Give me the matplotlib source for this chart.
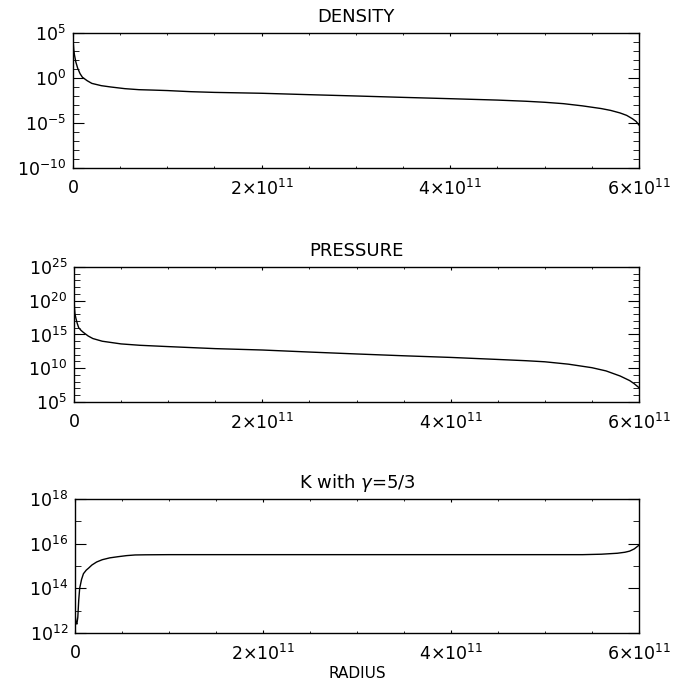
import math
import matplotlib
matplotlib.use("Agg")
import matplotlib.pyplot as plt
from matplotlib.ticker import FixedLocator, FuncFormatter

plt.rcParams['font.family'] = ['DejaVu Sans']
plt.rcParams['mathtext.fontset'] = 'dejavusans'

# radius in units of 1e11 (cm)
dens_r = [0.0, 0.003, 0.008, 0.015, 0.03, 0.05, 0.075, 0.1, 0.15, 0.2, 0.3, 0.4, 0.55, 0.7, 0.85,
          1.0, 1.25, 1.5, 2.0, 2.5, 3.0, 3.5, 4.0, 4.5, 4.8, 5.0, 5.2, 5.4, 5.6, 5.7, 5.8, 5.87,
          5.93, 5.97, 6.0]
dens_v = [3e4, 8e3, 1.5e3, 4e2, 60, 12, 3, 1.2, 0.5, 0.25, 0.14, 0.1, 0.065, 0.05, 0.045,
          0.04, 0.03, 0.025, 0.02, 0.014, 0.01, 7e-3, 5e-3, 3.5e-3, 2.6e-3, 2e-3, 1.4e-3, 8e-4,
          4e-4, 2.5e-4, 1.3e-4, 7e-5, 3e-5, 1.5e-5, 6e-6]

pres_r = [0.0, 0.005, 0.01, 0.02, 0.035, 0.05, 0.075, 0.1, 0.15, 0.2, 0.3, 0.5, 0.7, 1.0, 1.5,
          2.0, 2.5, 3.0, 3.5, 4.0, 4.5, 4.8, 5.0, 5.25, 5.5, 5.65, 5.8, 5.9, 5.95, 6.0]
pres_v = [2.5e20, 8e18, 1.2e18, 2.5e17, 4e16, 1e16, 4e15, 2e15, 6e14, 2.5e14, 1e14, 4e13,
          2.5e13, 1.6e13, 8e12, 5e12, 2.5e12, 1.3e12, 7e11, 4e11, 2e11, 1.3e11, 9e10, 4e10,
          1.2e10, 4e9, 7e8, 1.5e8, 5e7, 1.3e7]

k_r = [0.0, 0.01, 0.02, 0.03, 0.04, 0.05, 0.07, 0.09, 0.12, 0.145, 0.18, 0.23, 0.29, 0.37, 0.46,
       0.55, 0.64, 0.75, 1.0, 2.0, 3.0, 4.0, 5.0, 5.4, 5.6, 5.77, 5.85, 5.9, 5.95, 6.0]
k_v = [8e12, 3e12, 2.5e12, 5e12, 3e13, 1e14, 2.5e14, 4.5e14, 6.5e14, 8e14, 1.1e15, 1.5e15,
       1.9e15, 2.3e15, 2.6e15, 2.9e15, 3.1e15, 3.15e15, 3.2e15, 3.2e15, 3.2e15, 3.2e15,
       3.2e15, 3.2e15, 3.35e15, 3.7e15, 4.1e15, 4.6e15, 5.8e15, 8.5e15]

x_ticks = [0, 2e11, 4e11, 6e11]
x_labels = ['0', r'$2{\times}10^{11}$', r'$4{\times}10^{11}$', r'$6{\times}10^{11}$']

panels = [
    ("DENSITY", dens_r, dens_v, (1e-10, 1e5), [-10, -5, 0, 5], list(range(-10, 6))),
    ("PRESSURE", pres_r, pres_v, (1e5, 1e25), [5, 10, 15, 20, 25], list(range(5, 26))),
    (r"K with $\gamma$=5/3", k_r, k_v, (1e12, 1e18), [12, 14, 16, 18], list(range(12, 19))),
]

fig = plt.figure(figsize=(6.86, 6.84), dpi=100)
boxes = [[0.1064, 0.7544, 0.825, 0.1974],
         [0.1079, 0.4123, 0.8236, 0.1974],
         [0.1093, 0.0746, 0.8222, 0.1960]]

for box, (title, r, v, ylim, ymaj, ymin) in zip(boxes, panels):
    ax = fig.add_axes(box)
    ax.semilogy([ri * 1e11 for ri in r], v, color='black', lw=1.0)
    ax.set_xlim(0, 6e11)
    ax.set_ylim(*ylim)
    ax.set_title(title, fontsize=13, pad=8)

    ax.xaxis.set_major_locator(FixedLocator(x_ticks))
    ax.set_xticklabels(x_labels)
    ax.xaxis.set_minor_locator(FixedLocator([i * 0.5e11 for i in range(13)]))

    ax.yaxis.set_major_locator(FixedLocator([10.0 ** e for e in ymaj]))
    ax.yaxis.set_major_formatter(FuncFormatter(lambda val, pos: r'$10^{%d}$' % round(math.log10(val))))
    ax.yaxis.set_minor_locator(FixedLocator([10.0 ** e for e in ymin]))
    ax.yaxis.set_minor_formatter(FuncFormatter(lambda val, pos: ''))

    ax.tick_params(axis='both', which='both', direction='in', top=True, right=True,
                   colors='black', labelsize=12.5)
    ax.tick_params(axis='x', which='major', length=2.2, pad=8)
    ax.tick_params(axis='x', which='minor', length=1.2)
    ax.tick_params(axis='y', which='major', length=8, pad=5)
    ax.tick_params(axis='y', which='minor', length=4)
    for s in ax.spines.values():
        s.set_linewidth(1.0)

ax.set_xlabel("RADIUS", fontsize=11, labelpad=1)

fig.savefig("out.png", dpi=100)
